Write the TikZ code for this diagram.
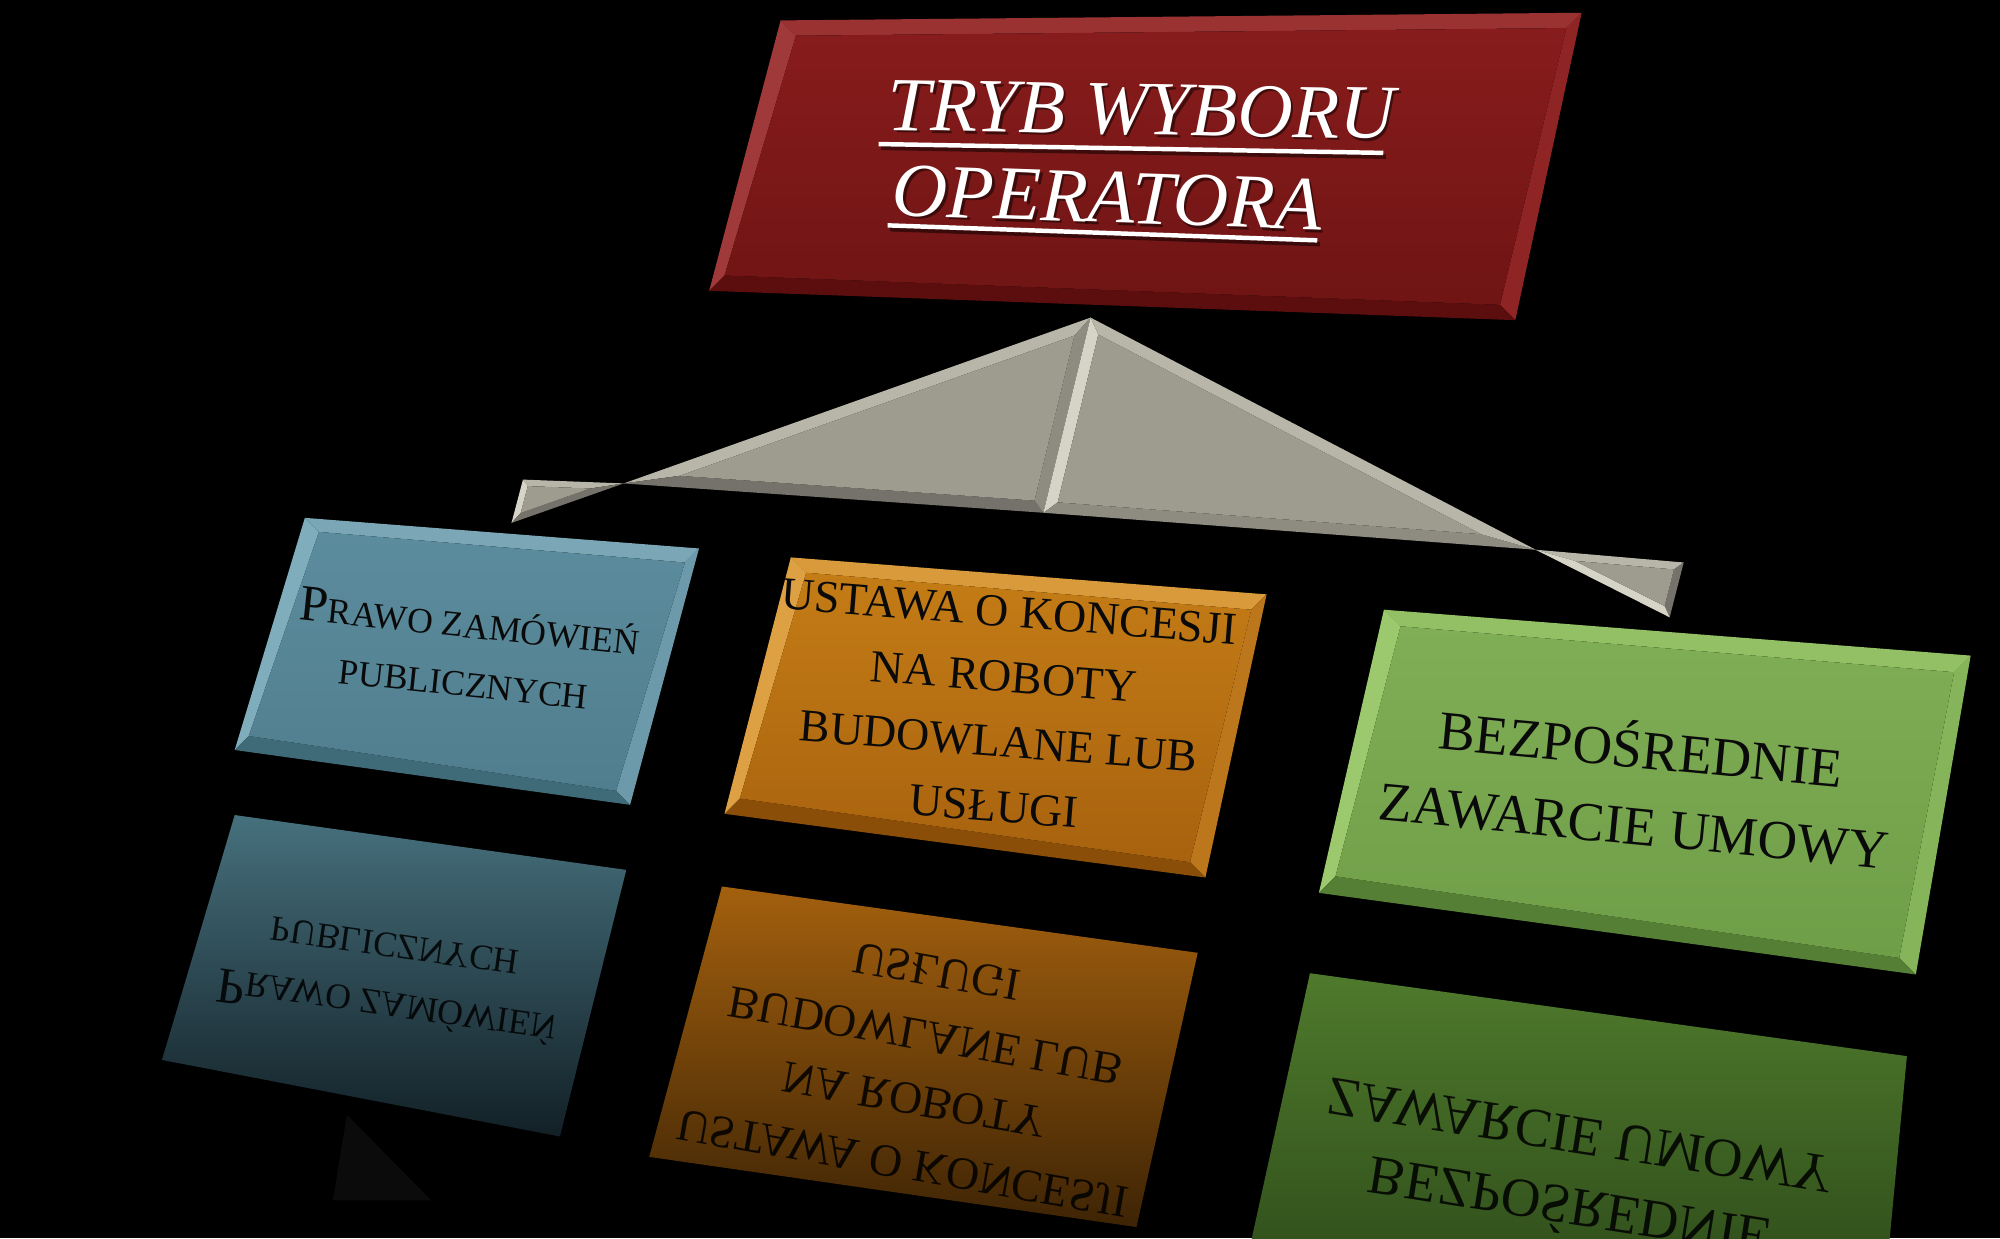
\documentclass[tikz,border=0pt]{standalone}
\usepackage{fontspec}
\setmainfont{Liberation Serif}
\usetikzlibrary{calc}
\definecolor{redT}{HTML}{9A3232}
\definecolor{redL}{HTML}{A03A3A}
\definecolor{redR}{HTML}{8E2424}
\definecolor{redB}{HTML}{5C0E0E}
\definecolor{redI1}{HTML}{881C1C}
\definecolor{redI2}{HTML}{701414}
\definecolor{bluT}{HTML}{7AA6B5}
\definecolor{bluL}{HTML}{80ADBC}
\definecolor{bluR}{HTML}{6C9AAA}
\definecolor{bluB}{HTML}{3F6A78}
\definecolor{bluI1}{HTML}{5B8C9D}
\definecolor{bluI2}{HTML}{517E8E}
\definecolor{oraT}{HTML}{D89A3A}
\definecolor{oraL}{HTML}{DDA042}
\definecolor{oraR}{HTML}{BC761C}
\definecolor{oraB}{HTML}{8A4E08}
\definecolor{oraI1}{HTML}{C47C16}
\definecolor{oraI2}{HTML}{A8620E}
\definecolor{grnT}{HTML}{93C065}
\definecolor{grnL}{HTML}{9CC86E}
\definecolor{grnR}{HTML}{86B45A}
\definecolor{grnB}{HTML}{557F35}
\definecolor{grnI1}{HTML}{80AE56}
\definecolor{grnI2}{HTML}{6F9E48}
\definecolor{bluR1}{HTML}{46707D}
\definecolor{bluR2}{HTML}{122026}
\definecolor{oraR1}{HTML}{A3600E}
\definecolor{oraR2}{HTML}{3E2405}
\definecolor{grnR1}{HTML}{4F7A2C}
\definecolor{grnR2}{HTML}{2A4618}
\definecolor{gF}{HTML}{9E9C8E}
\definecolor{gVL}{HTML}{D6D4C6}
\definecolor{gLt}{HTML}{B8B6A8}
\definecolor{gMd}{HTML}{8E8C80}
\definecolor{gDk}{HTML}{74726A}
\definecolor{txtdark}{HTML}{0A0A0A}
\definecolor{faint}{HTML}{0B0B0B}
% bevelled quadrilateral: prefix, TL, TR, BR, BL, bevel width
\newcommand\bevquad[6]{%
  \coordinate (#1tl) at #2; \coordinate (#1tr) at #3;
  \coordinate (#1br) at #4; \coordinate (#1bl) at #5;
  \coordinate (#1itl) at ($(#1tl)+(#6,#6)$);
  \coordinate (#1itr) at ($(#1tr)+(-#6,#6)$);
  \coordinate (#1ibr) at ($(#1br)+(-#6,-#6)$);
  \coordinate (#1ibl) at ($(#1bl)+(#6,-#6)$);}
\newcommand\bevfill[7]{%
  \fill[#2] (#1tl)--(#1tr)--(#1itr)--(#1itl)--cycle;
  \fill[#3] (#1tl)--(#1itl)--(#1ibl)--(#1bl)--cycle;
  \fill[#4] (#1tr)--(#1br)--(#1ibr)--(#1itr)--cycle;
  \fill[#5] (#1bl)--(#1ibl)--(#1ibr)--(#1br)--cycle;
  \shade[top color=#6,bottom color=#7] (#1itl)--(#1itr)--(#1ibr)--(#1ibl)--cycle;}
% bevelled triangle: v1 v2 v3 incenter fraction col12 col23 col31 face
\newcommand\bevtri[9]{%
  \coordinate (ia) at ($(#1)!#5!(#4)$);
  \coordinate (ib) at ($(#2)!#5!(#4)$);
  \coordinate (ic) at ($(#3)!#5!(#4)$);
  \fill[#6] (#1)--(#2)--(ib)--(ia)--cycle;
  \fill[#7] (#2)--(#3)--(ic)--(ib)--cycle;
  \fill[#8] (#3)--(#1)--(ia)--(ic)--cycle;
  \fill[#9] (ia)--(ib)--(ic)--cycle;}
\begin{document}
\begin{tikzpicture}[x=1pt,y=-1pt,
  boxtxt/.style={align=center, text=txtdark, inner sep=0pt},
  titletxt/.style={text=white, inner sep=0pt, font=\fontsize{60}{60}\selectfont\itshape},
  refltxt/.style={align=center, text=black, opacity=0.85, inner sep=0pt, yscale=-1, transform shape},
  ul/.style={white, line width=3.5pt}]
\fill[black] (0,0) rectangle (1568,970.6);
\useasboundingbox (0,0) rectangle (1568,970.6);
\clip (0,0) rectangle (1568,970.6);

% ---------- reflections ----------
\coordinate (brf1) at (184,639); \coordinate (brf2) at (491,682);
\coordinate (brf3) at (439,891); \coordinate (brf4) at (127,831);
\shade[top color=bluR1, bottom color=bluR2] (brf1)--(brf2)--(brf3)--(brf4)--cycle;
\coordinate (orf1) at (566,695); \coordinate (orf2) at (939,747);
\coordinate (orf3) at (891,962); \coordinate (orf4) at (509,907);
\shade[top color=oraR1, bottom color=oraR2] (orf1)--(orf2)--(orf3)--(orf4)--cycle;
\coordinate (grf1) at (1027,763); \coordinate (grf2) at (1495,828);
\coordinate (grf3) at (1475,1040); \coordinate (grf4) at (975,1000);
\shade[top color=grnR1, bottom color=grnR2] (grf1)--(grf2)--(grf3)--(grf4)--cycle;
\coordinate (crf1) at (272,874); \coordinate (crf2) at (338,941); \coordinate (crf3) at (261,941);
\fill[faint] (crf1)--(crf2)--(crf3)--cycle;

\node[rotate=-8, refltxt, font=\fontsize{28}{46}\selectfont] (pzr) at (306,768)
  {{\fontsize{40}{40}\selectfont P}RAWO ZAMÓWIEŃ\\PUBLICZNYCH};
\node[rotate=-10, refltxt, font=\fontsize{36}{51}\selectfont] (ukr) at (721,837)
  {USTAWA O KONCESJI\\NA ROBOTY\\BUDOWLANE LUB\\USŁUGI};
\node[rotate=-9, refltxt, font=\fontsize{43}{56}\selectfont] (bzr) at (1234,922)
  {BEZPOŚREDNIE\\ZAWARCIE UMOWY};

% ---------- title box ----------
\bevquad{r}{(612,16)}{(1240,10)}{(1188,251)}{(556,228)}{12}
\bevfill{r}{redT}{redL}{redR}{redB}{redI1}{redI2}

\node[titletxt, text=black, opacity=0.5, rotate=-1] (t1s) at (897,88) {TRYB WYBORU};
\node[titletxt, text=black, opacity=0.5, rotate=-2] (t2s) at (870,157) {OPERATORA};
\draw[ul, black, opacity=0.5] ($(t1s.base west)+(-7,12)$) -- ($(t1s.base east)+(-9,12)$);
\draw[ul, black, opacity=0.5] ($(t2s.base west)+(-3,9)$) -- ($(t2s.base east)+(-3,9)$);
\node[titletxt, rotate=-1] (t1) at (895,86) {TRYB WYBORU};
\node[titletxt, rotate=-2] (t2) at (868,155) {OPERATORA};
\draw[ul] ($(t1.base west)+(-7,11)$) -- ($(t1.base east)+(-9,11)$);
\draw[ul] ($(t2.base west)+(-3,8)$) -- ($(t2.base east)+(-3,8)$);

% ---------- connector shape ----------
\coordinate (A) at (855,249);
\coordinate (L) at (489,379);
\coordinate (M) at (818,402);
\coordinate (R) at (1204,431);
\coordinate (T1) at (410,376);
\coordinate (T2) at (401,410);
\coordinate (T3) at (1320,441);
\coordinate (T4) at (1309,484);
\coordinate (I1) at (772.8,340.2);
\coordinate (I2) at (898.0,343.7);
\coordinate (I3) at (419.9,389.4);
\coordinate (I4) at (1296.9,457.4);
\bevtri{A}{L}{M}{I1}{0.154}{gLt}{gDk}{gMd}{gF}
\bevtri{A}{M}{R}{I2}{0.14}{gVL}{gMd}{gLt}{gF}
\bevtri{L}{T1}{T2}{I3}{0.38}{gLt}{gVL}{gDk}{gF}
\bevtri{R}{T3}{T4}{I4}{0.33}{gLt}{gDk}{gVL}{gF}

% ---------- three boxes ----------
\bevquad{b}{(239,406)}{(548,430)}{(494,631)}{(184,588)}{11}
\bevfill{b}{bluT}{bluL}{bluR}{bluB}{bluI1}{bluI2}
\bevquad{o}{(620,437)}{(993,466)}{(945,688)}{(568,638)}{12}
\bevfill{o}{oraT}{oraL}{oraR}{oraB}{oraI1}{oraI2}
\bevquad{g}{(1085,478)}{(1545,514)}{(1502,764)}{(1034,700)}{13}
\bevfill{g}{grnT}{grnL}{grnR}{grnB}{grnI1}{grnI2}

\node[boxtxt, rotate=-6, font=\fontsize{28}{46}\selectfont] (pz) at (366,510)
  {{\fontsize{40}{40}\selectfont P}RAWO ZAMÓWIEŃ\\PUBLICZNYCH};
\node[boxtxt, rotate=-4.5, font=\fontsize{36}{51}\selectfont] (uk) at (785,556)
  {USTAWA O KONCESJI\\NA ROBOTY\\BUDOWLANE LUB\\USŁUGI};
\node[boxtxt, rotate=-5.5, font=\fontsize{43}{60}\selectfont] (bz) at (1284,614)
  {BEZPOŚREDNIE\\ZAWARCIE UMOWY};
\end{tikzpicture}
\end{document}
